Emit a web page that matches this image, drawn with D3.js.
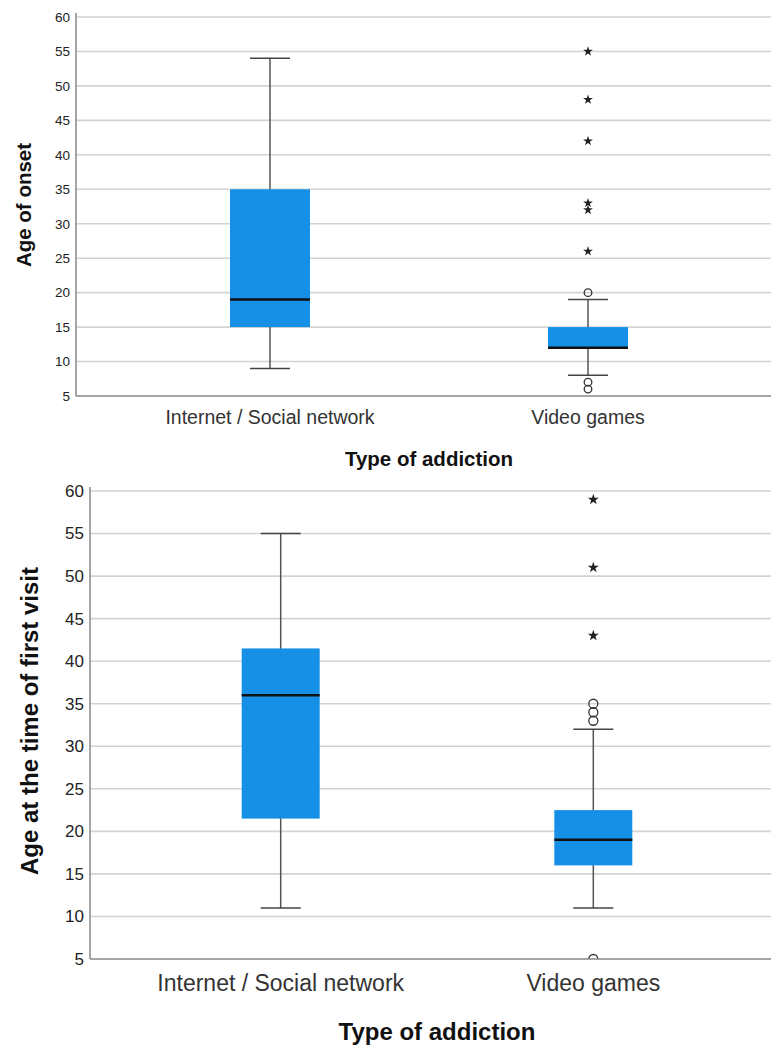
<!DOCTYPE html>
<html>
<head>
<meta charset="utf-8">
<script src="https://cdn.jsdelivr.net/npm/d3@7"></script>
<style>
  body { margin: 0; background: #fff; }
  svg { display: block; font-family: "Liberation Sans", Arial, sans-serif; }
</style>
</head>
<body>
<div id="chart"></div>
<script>
// data
var categories = ["Internet / Social network", "Video games"];
var yTicks = [5, 10, 15, 20, 25, 30, 35, 40, 45, 50, 55, 60];

// [lowWhisker, q1, median, q3, highWhisker]
var onsetBoxes = [[9, 15, 19, 35, 54], [8, 12, 12, 15, 19]];
var onsetCircles = [[], [20, 7, 6]];
var onsetStars = [[], [55, 48, 42, 33, 32, 26]];

var visitBoxes = [[11, 21.5, 36, 41.5, 55], [11, 16, 19, 22.5, 32]];
var visitCircles = [[], [35, 34, 33, 5]];
var visitStars = [[], [59, 51, 43]];

var svg = d3.select("#chart").append("svg")
  .attr("width", 771)
  .attr("height", 1046);

var star = d3.symbol().type(d3.symbolStar);

function drawPanel(p) {
  var x = d3.scalePoint().domain(categories).range([p.left, p.right]).padding(p.pad);
  var y = d3.scaleLinear().domain([5, 60]).range([p.bottom, p.top]);
  var g = svg.append("g");
  var clipId = "clip" + p.id;

  g.append("clipPath").attr("id", clipId)
    .append("rect")
    .attr("x", p.left).attr("y", p.top - 10)
    .attr("width", 771 - p.left).attr("height", p.bottom - p.top + 10);

  // grid
  g.append("g").selectAll("line").data(yTicks.slice(1)).enter().append("line")
    .attr("x1", p.left).attr("x2", 771)
    .attr("y1", function(d) { return y(d); })
    .attr("y2", function(d) { return y(d); })
    .attr("stroke", "#d3d3d3").attr("stroke-width", 1.6);

  // y axis
  var yAxis = g.append("g")
    .attr("transform", "translate(" + p.left + ",0)")
    .call(d3.axisLeft(y).tickValues(yTicks).tickSize(0).tickPadding(p.tickPad));
  yAxis.select(".domain").remove();
  yAxis.selectAll("text").attr("font-size", p.tickFont).attr("fill", "#222")
    .attr("font-family", "Liberation Sans, Arial, sans-serif");
  g.append("line")
    .attr("x1", p.left).attr("x2", p.left)
    .attr("y1", p.top - 4).attr("y2", p.bottom)
    .attr("stroke", "#888").attr("stroke-width", 1.5);

  var plot = g.append("g").attr("clip-path", "url(#" + clipId + ")");

  categories.forEach(function(c, i) {
    var b = p.boxes[i];
    var cx = x(c);
    // whiskers
    plot.append("line")
      .attr("x1", cx).attr("x2", cx)
      .attr("y1", y(b[0])).attr("y2", y(b[4]))
      .attr("stroke", "#555").attr("stroke-width", 1.5);
    [b[0], b[4]].forEach(function(v) {
      plot.append("line")
        .attr("x1", cx - p.capW / 2).attr("x2", cx + p.capW / 2)
        .attr("y1", y(v)).attr("y2", y(v))
        .attr("stroke", "#444").attr("stroke-width", 1.5);
    });
    // box
    plot.append("rect")
      .attr("x", cx - p.boxW / 2).attr("width", p.boxW)
      .attr("y", y(b[3])).attr("height", y(b[1]) - y(b[3]))
      .attr("fill", "#1590e6");
    plot.append("line")
      .attr("x1", cx - p.boxW / 2).attr("x2", cx + p.boxW / 2)
      .attr("y1", y(b[2])).attr("y2", y(b[2]))
      .attr("stroke", "#111").attr("stroke-width", 2.5);
    // outliers
    plot.selectAll(".c" + i).data(p.circles[i]).enter().append("circle")
      .attr("cx", cx).attr("cy", function(d) { return y(d); })
      .attr("r", p.circR)
      .attr("fill", "none").attr("stroke", "#333").attr("stroke-width", 1.3);
    plot.selectAll(".s" + i).data(p.stars[i]).enter().append("path")
      .attr("d", star.size(p.starSize))
      .attr("transform", function(d) { return "translate(" + cx + "," + y(d) + ")"; })
      .attr("fill", "#222");
  });

  // x axis
  g.append("line")
    .attr("x1", p.left).attr("x2", 771)
    .attr("y1", p.bottom).attr("y2", p.bottom)
    .attr("stroke", "#888").attr("stroke-width", 1.5);
  g.append("g").selectAll("text").data(categories).enter().append("text")
    .attr("x", function(d) { return x(d); })
    .attr("y", p.bottom + p.catOffset)
    .attr("text-anchor", "middle")
    .attr("font-size", p.catFont).attr("fill", "#333")
    .text(function(d) { return d; });

  g.append("text")
    .attr("x", p.xTitleX).attr("y", p.xTitleY)
    .attr("text-anchor", "middle")
    .attr("font-size", p.titleFont).attr("font-weight", "bold").attr("fill", "#111")
    .text("Type of addiction");

  g.append("text")
    .attr("transform", "translate(" + p.yTitleX + "," + p.yTitleY + ") rotate(-90)")
    .attr("text-anchor", "middle")
    .attr("font-size", p.titleFont).attr("font-weight", "bold").attr("fill", "#111")
    .text(p.yTitle);
}

drawPanel({
  id: 1, left: 76, right: 782, pad: 0.61, top: 17, bottom: 396,
  boxes: onsetBoxes, circles: onsetCircles, stars: onsetStars,
  boxW: 80, capW: 40, circR: 3.8, starSize: 30,
  tickFont: 13.5, tickPad: 6, catFont: 19.5, catOffset: 28,
  titleFont: 20.5, xTitleX: 429, xTitleY: 466,
  yTitle: "Age of onset", yTitleX: 31, yTitleY: 205
});

drawPanel({
  id: 2, left: 90, right: 784, pad: 0.61, top: 491, bottom: 959,
  boxes: visitBoxes, circles: visitCircles, stars: visitStars,
  boxW: 78, capW: 40, circR: 4.5, starSize: 38,
  tickFont: 17, tickPad: 6, catFont: 23, catOffset: 32,
  titleFont: 24, xTitleX: 437, xTitleY: 1040,
  yTitle: "Age at the time of first visit", yTitleX: 38, yTitleY: 721
});
</script>
</body>
</html>
